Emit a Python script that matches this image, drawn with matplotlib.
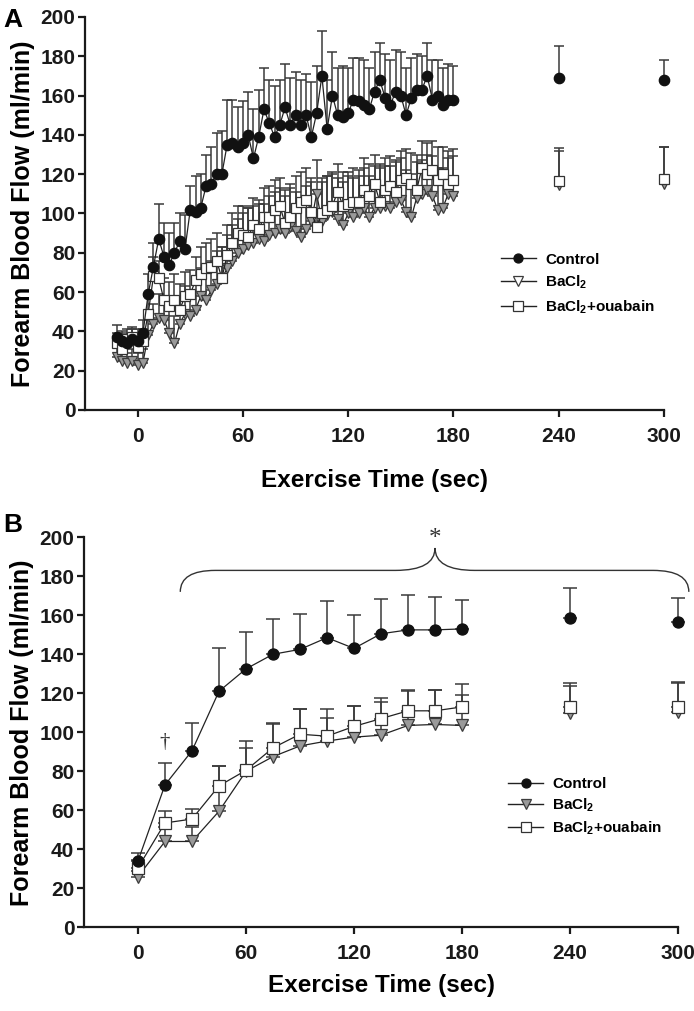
import numpy as np
import matplotlib
matplotlib.use("Agg")
import matplotlib.pyplot as plt
from matplotlib.lines import Line2D
from matplotlib.path import Path
from matplotlib.patches import PathPatch

# ============================================================
# 1. FONTS
# ============================================================
plt.rcParams['font.family'] = ['Liberation Sans', 'DejaVu Sans']
plt.rcParams['font.weight'] = 'bold'
plt.rcParams['mathtext.fontset'] = 'custom'
plt.rcParams['mathtext.rm'] = 'Liberation Sans:bold'
plt.rcParams['mathtext.bf'] = 'Liberation Sans:bold'

# ============================================================
# 2. DATA  -  panel A (3 s averages)
# ============================================================
time_a = [-12, -9, -6, -3, 0,
          3, 6, 9, 12, 15, 18, 21, 24, 27, 30,
          33, 36, 39, 42, 45, 48, 51, 54, 57, 60,
          63, 66, 69, 72, 75, 78, 81, 84, 87, 90,
          93, 96, 99, 102, 105, 108, 111, 114, 117, 120,
          123, 126, 129, 132, 135, 138, 141, 144, 147, 150,
          153, 156, 159, 162, 165, 168, 171, 174, 177, 180]

ctrl_a = [37, 35, 34, 36, 35,
          39, 59, 73, 87, 78, 74, 80, 86, 82, 102,
          101, 103, 114, 115, 120, 120, 135, 136, 134, 136,
          140, 128, 139, 153, 146, 139, 145, 154, 145, 150,
          145, 150, 139, 151, 170, 143, 160, 150, 149, 151,
          158, 157, 155, 153, 162, 168, 159, 155, 162, 160,
          150, 159, 163, 163, 170, 158, 160, 155, 158, 158]
ctrl_a_se = [6, 5, 5, 6, 6,
             7, 10, 12, 18, 17, 16, 15, 14, 17, 12,
             18, 17, 16, 19, 21, 22, 23, 22, 20, 21,
             22, 25, 24, 21, 22, 26, 23, 22, 24, 22,
             23, 21, 28, 24, 23, 25, 22, 24, 26, 23,
             21, 22, 23, 21, 20, 19, 22, 23, 21, 22,
             24, 20, 18, 17, 17, 20, 18, 19, 18, 17]

bacl_a = [27, 25, 24, 25, 23,
          24, 38, 44, 47, 46, 39, 34, 44, 49, 48,
          51, 58, 56, 61, 64, 67, 72, 76, 80, 82,
          84, 85, 87, 86, 89, 90, 92, 90, 93, 91,
          88, 92, 96, 110, 96, 99, 101, 97, 94, 100,
          98, 100, 103, 98, 103, 103, 104, 103, 106, 107,
          101, 98, 108, 110, 112, 109, 102, 103, 110, 109]
bacl_a_se = [5, 6, 5, 6, 6,
             7, 9, 10, 12, 12, 12, 14, 13, 14, 13,
             13, 14, 15, 15, 17, 16, 17, 18, 17, 18,
             19, 19, 18, 19, 20, 21, 21, 19, 22, 20,
             19, 22, 20, 17, 22, 20, 20, 21, 22, 19,
             20, 19, 20, 21, 21, 22, 20, 21, 20, 21,
             21, 22, 18, 17, 18, 20, 21, 20, 18, 20]

ouab_a = [34, 31, 36, 37, 32,
          35, 49, 68, 67, 56, 53, 56, 51, 58, 59,
          66, 69, 72, 73, 76, 67, 79, 85, 90, 89,
          88, 94, 92, 98, 98, 102, 104, 95, 98, 103,
          106, 107, 101, 93, 100, 102, 104, 111, 104, 105,
          106, 106, 112, 109, 115, 106, 112, 114, 111, 117,
          118, 115, 112, 123, 120, 122, 117, 120, 115, 117]
ouab_a_se = [5, 6, 5, 4, 6,
             6, 9, 10, 9, 11, 12, 13, 13, 12, 12,
             12, 14, 13, 14, 14, 16, 15, 15, 14, 15,
             15, 14, 15, 15, 16, 15, 14, 17, 15, 16,
             15, 16, 17, 19, 16, 17, 16, 14, 17, 16,
             17, 16, 16, 16, 15, 17, 16, 15, 16, 15,
             15, 16, 18, 14, 16, 15, 17, 14, 17, 16]

# recovery points (not joined to the exercise curve)
late_time = [240, 300]
ctrl_a_late, ctrl_a_late_se = [169, 168], [16, 10]
bacl_a_late, bacl_a_late_se = [114.5, 115], [19, 19]
ouab_a_late, ouab_a_late_se = [116.5, 117.4], [15.3, 16.4]

# ============================================================
# 3. DATA  -  panel B (15 s averages)
# ============================================================
time_b = [0, 15, 30, 45, 60, 75, 90, 105, 120, 135, 150, 165, 180]

ctrl_b = [34, 73, 90.5, 121, 132.5, 140, 142.5, 148.5, 143, 150.5, 152.5, 152.5, 153]
ctrl_b_se = [4, 11, 14.5, 22, 19, 18, 18, 19, 17, 18, 18, 17, 15]
bacl_b = [26, 44, 44, 59.5, 80, 87.5, 93, 95.5, 97.5, 98.5, 103.5, 104, 103.5]
bacl_b_se = [3, 7.5, 7.5, 23, 12, 17, 19, 12, 16, 17, 18, 17.5, 15.5]
ouab_b = [30.5, 53.5, 55.5, 72.5, 80.5, 92, 99, 98, 103, 107, 111, 111, 113]
ouab_b_se = [4, 6, 5, 10, 15, 12, 13, 14, 10.5, 10.5, 10, 10.5, 11.5]

ctrl_b_late, ctrl_b_late_se = [158.4, 156.7], [15.4, 12.3]
bacl_b_late, bacl_b_late_se = [109.7, 110.6], [14, 15]
ouab_b_late, ouab_b_late_se = [112.8, 112.8], [12.6, 12.6]

# ============================================================
# 4. STYLE
# ============================================================
INK = '#222222'
ERR = '#3a3a3a'
GREY = '#9a9a9a'

STYLE = {
    'ctrl': dict(marker='o', mfc='#111111', mec='#111111'),
    'bacl': dict(marker='v', mfc=GREY, mec='#3c3c3c'),
    'ouab': dict(marker='s', mfc='white', mec='#333333'),
}
LABELS = {'ctrl': 'Control', 'bacl': r'BaCl$_\mathbf{2}$',
          'ouab': r'BaCl$_\mathbf{2}$+ouabain'}


def draw_series(ax, t, y, se, key, ms, capsize, joined=True):
    se = np.asarray(se, dtype=float)
    eb = ax.errorbar(t, y, yerr=[np.zeros_like(se), se], fmt='none',
                     ecolor=ERR, elinewidth=1.1, capsize=capsize,
                     capthick=1.1, zorder=2)
    for part in eb.lines[1] + eb.lines[2]:
        part.set_clip_on(False)
    ls = '-' if joined else 'none'
    ax.plot(t, y, linestyle=ls, color=INK, linewidth=0.9,
            markersize=ms, markeredgewidth=0.9, zorder=3, clip_on=False,
            **STYLE[key])


def style_axes(ax, xpad):
    ax.set_xlim(-30, 300)
    ax.set_ylim(0, 200)
    ax.set_xticks([0, 60, 120, 180, 240, 300])
    ax.set_yticks(np.arange(0, 201, 20))
    for s in ['top', 'right']:
        ax.spines[s].set_visible(False)
    for s in ['left', 'bottom']:
        ax.spines[s].set_linewidth(1.6)
        ax.spines[s].set_color('#1a1a1a')
    ax.tick_params(axis='both', direction='out', length=5, width=1.6,
                   labelsize=15, colors='#1a1a1a')
    ax.tick_params(axis='x', pad=7)
    ax.tick_params(axis='y', pad=2)
    for lab in ax.get_xticklabels() + ax.get_yticklabels():
        lab.set_fontweight('bold')
    ax.set_xlabel('Exercise Time (sec)', fontsize=17.5, fontweight='bold',
                  labelpad=xpad)
    ax.set_ylabel('Forearm Blood Flow (ml/min)', fontsize=18,
                  fontweight='bold', labelpad=4)


def add_legend(ax, anchor, open_triangle, spacing):
    handles = []
    for key in ['ctrl', 'bacl', 'ouab']:
        st = dict(STYLE[key])
        if key == 'bacl' and open_triangle:
            st['mfc'] = 'white'
        handles.append(Line2D([], [], color=INK, linewidth=1.0,
                              markersize=6.5, markeredgewidth=0.9,
                              label=LABELS[key], **st))
    ax.legend(handles=handles, loc='upper left', bbox_to_anchor=anchor,
              frameon=False, borderpad=0, borderaxespad=0,
              handlelength=2.3, handletextpad=0.6, labelspacing=spacing,
              prop={'weight': 'bold', 'size': 11})


# ============================================================
# 5. FIGURE
# ============================================================
fig = plt.figure(figsize=(6.94, 10.11), dpi=100)
ax_a = fig.add_axes([0.1225, 0.5945, 0.8343, 0.3887])
ax_b = fig.add_axes([0.121, 0.0828, 0.856, 0.3858])

# --- panel A ---
draw_series(ax_a, time_a, bacl_a, bacl_a_se, 'bacl', 7, 3.6)
draw_series(ax_a, time_a, ouab_a, ouab_a_se, 'ouab', 7, 3.6)
draw_series(ax_a, time_a, ctrl_a, ctrl_a_se, 'ctrl', 7.5, 3.6)
draw_series(ax_a, late_time, bacl_a_late, bacl_a_late_se, 'bacl', 7, 3.6, joined=False)
draw_series(ax_a, late_time, ouab_a_late, ouab_a_late_se, 'ouab', 7, 3.6, joined=False)
draw_series(ax_a, late_time, ctrl_a_late, ctrl_a_late_se, 'ctrl', 7.5, 3.6, joined=False)
style_axes(ax_a, xpad=17)
add_legend(ax_a, (0.718, 0.40), open_triangle=True, spacing=0.45)

# --- panel B ---
draw_series(ax_b, time_b, bacl_b, bacl_b_se, 'bacl', 8, 4.8)
draw_series(ax_b, time_b, ouab_b, ouab_b_se, 'ouab', 8, 4.8)
draw_series(ax_b, time_b, ctrl_b, ctrl_b_se, 'ctrl', 8, 4.8)
draw_series(ax_b, late_time, bacl_b_late, bacl_b_late_se, 'bacl', 8, 4.8, joined=False)
draw_series(ax_b, late_time, ouab_b_late, ouab_b_late_se, 'ouab', 8, 4.8, joined=False)
draw_series(ax_b, late_time, ctrl_b_late, ctrl_b_late_se, 'ctrl', 8, 4.8, joined=False)
style_axes(ax_b, xpad=8)
add_legend(ax_b, (0.714, 0.385), open_triangle=False, spacing=0.33)

# brace over the significant time points, with * and dagger
verts = [(23.5, 172), (23.5, 183), (43, 183), (143, 183),
         (165, 183), (165, 194.5), (165, 183), (187, 183),
         (286, 183), (306, 183), (306, 172)]
codes = [Path.MOVETO, Path.CURVE3, Path.CURVE3, Path.LINETO,
         Path.CURVE3, Path.CURVE3, Path.CURVE3, Path.CURVE3,
         Path.LINETO, Path.CURVE3, Path.CURVE3]
ax_b.add_patch(PathPatch(Path(verts, codes), facecolor='none',
                         edgecolor='#333333', linewidth=1.0, clip_on=False))
ax_b.text(165, 199, '*', ha='center', va='center', fontsize=18,
          family='Liberation Serif', fontweight='normal', color='#333333')
ax_b.text(15, 94.5, '\u2020', ha='center', va='center', fontsize=15,
          family='Liberation Serif', fontweight='normal', color='#333333')

# panel letters
fig.text(0.005, 0.992, 'A', fontsize=19, fontweight='bold', va='top', ha='left')
fig.text(0.005, 0.493, 'B', fontsize=19, fontweight='bold', va='top', ha='left')

fig.savefig('out.png', dpi=100)
